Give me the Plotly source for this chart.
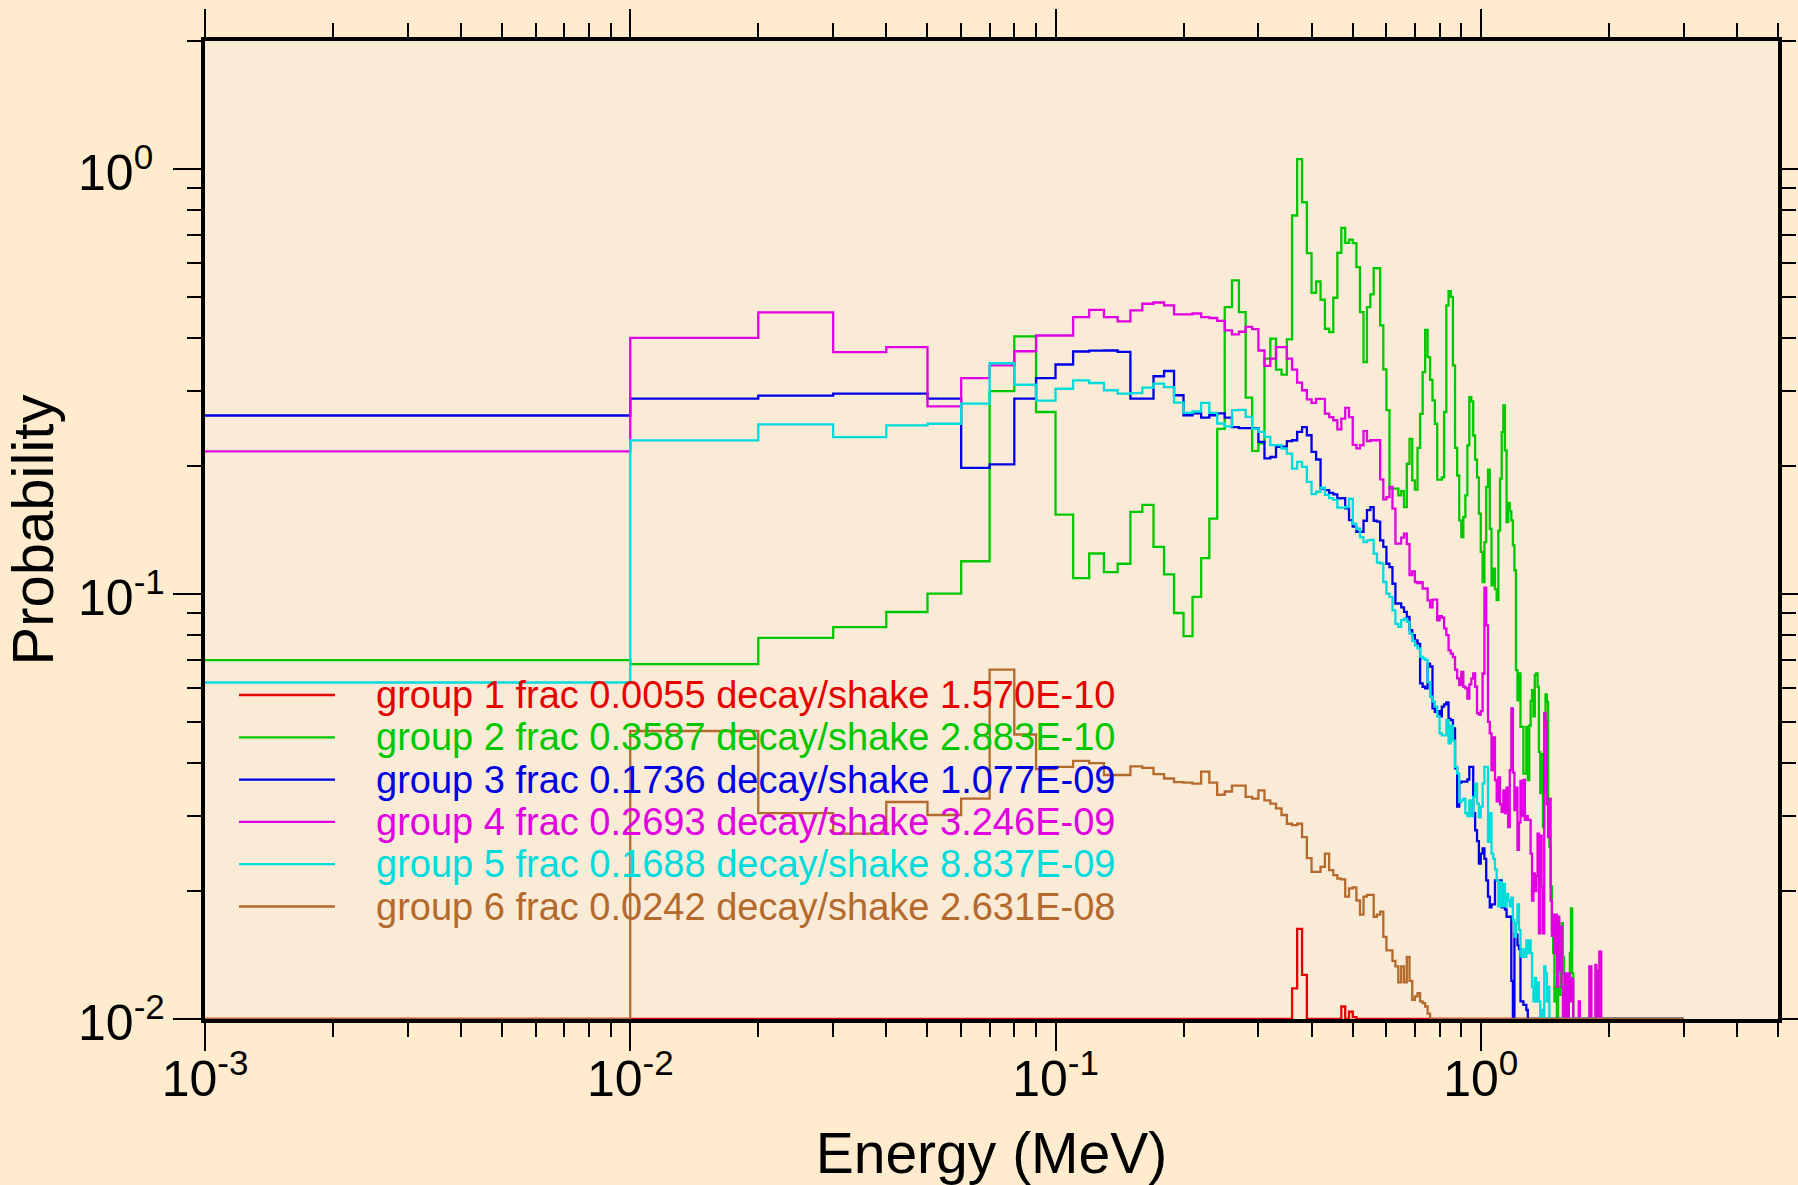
import math
import plotly.graph_objects as go

# ---------------- data ----------------
# histogram bin edges in MeV: first bin starts at the axis minimum, 0.01 MeV bins up to 2 MeV,
# then one last bin 2-3 MeV where every group sits on the axis floor
BIN_EDGES_MEV = [0.001] + [k / 100 for k in range(1, 201)] + [3.0]

GROUP_LABELS = [
    "group 1 frac 0.0055 decay/shake 1.570E-10",
    "group 2 frac 0.3587 decay/shake 2.883E-10",
    "group 3 frac 0.1736 decay/shake 1.077E-09",
    "group 4 frac 0.2693 decay/shake 3.246E-09",
    "group 5 frac 0.1688 decay/shake 8.837E-09",
    "group 6 frac 0.0242 decay/shake 2.631E-08",
]

GROUP1 = [
    0.01, 0.01, 0.01, 0.01, 0.01, 0.01, 0.01, 0.01, 0.01, 0.01,
    0.01, 0.01, 0.01, 0.01, 0.01, 0.01, 0.01, 0.01, 0.01, 0.01,
    0.01, 0.01, 0.01, 0.01, 0.01, 0.01, 0.01, 0.01, 0.01, 0.01,
    0.01, 0.01, 0.01, 0.01, 0.01, 0.01, 0.0118, 0.0163, 0.0127, 0.01,
    0.01, 0.01, 0.01, 0.01, 0.01, 0.01, 0.01, 0.0107, 0.01, 0.0104,
    0.0101, 0.01, 0.01, 0.01, 0.01, 0.01, 0.01, 0.01, 0.01, 0.01,
    0.01, 0.01, 0.01, 0.01, 0.01, 0.01, 0.01, 0.01, 0.01, 0.01,
    0.01, 0.01, 0.01, 0.01, 0.01, 0.01, 0.01, 0.01, 0.01, 0.01,
    0.01, 0.01, 0.01, 0.01, 0.01, 0.01, 0.01, 0.01, 0.01, 0.01,
    0.01, 0.01, 0.01, 0.01, 0.01, 0.01, 0.01, 0.01, 0.01, 0.01,
    0.01, 0.01, 0.01, 0.01, 0.01, 0.01, 0.01, 0.01, 0.01, 0.01,
    0.01, 0.01, 0.01, 0.01, 0.01, 0.01, 0.01, 0.01, 0.01, 0.01,
    0.01, 0.01, 0.01, 0.01, 0.01, 0.01, 0.01, 0.01, 0.01, 0.01,
    0.01, 0.01, 0.01, 0.01, 0.01, 0.01, 0.01, 0.01, 0.01, 0.01,
    0.01, 0.01, 0.01, 0.01, 0.01, 0.01, 0.01, 0.01, 0.01, 0.01,
    0.01, 0.01, 0.01, 0.01, 0.01, 0.01, 0.01, 0.01, 0.01, 0.01,
    0.01, 0.01, 0.01, 0.01, 0.01, 0.01, 0.01, 0.01, 0.01, 0.01,
    0.01, 0.01, 0.01, 0.01, 0.01, 0.01, 0.01, 0.01, 0.01, 0.01,
    0.01, 0.01, 0.01, 0.01, 0.01, 0.01, 0.01, 0.01, 0.01, 0.01,
    0.01, 0.01, 0.01, 0.01, 0.01, 0.01, 0.01, 0.01, 0.01, 0.01,
    0.01,
]

GROUP2 = [
    0.0699, 0.0684, 0.0788, 0.0836, 0.0907, 0.1002, 0.1194, 0.300, 0.4035, 0.268,
    0.1537, 0.109, 0.1245, 0.1126, 0.1178, 0.156, 0.162, 0.129, 0.1112, 0.0902,
    0.0796, 0.0984, 0.1215, 0.1504, 0.2447, 0.473, 0.5466, 0.4605, 0.2897, 0.2172,
    0.226, 0.3578, 0.3987, 0.337, 0.328, 0.397, 0.777, 1.055, 0.835, 0.634,
    0.5114, 0.5435, 0.4923, 0.4207, 0.4133, 0.4977, 0.635, 0.727, 0.670, 0.682,
    0.669, 0.5875, 0.4605, 0.3514, 0.473, 0.5068, 0.5843, 0.584, 0.4285, 0.3378,
    0.2706, 0.177, 0.177, 0.177, 0.1706, 0.1745, 0.160, 0.2025, 0.2318, 0.185,
    0.176, 0.2207, 0.2654, 0.3326, 0.418, 0.3607, 0.319, 0.2853, 0.2515, 0.1857,
    0.1857, 0.188, 0.268, 0.4773, 0.516, 0.500, 0.345, 0.2207, 0.190, 0.149,
    0.136, 0.1517, 0.1706, 0.2236, 0.2904, 0.284, 0.236, 0.207, 0.188, 0.1545,
    0.1256, 0.1067, 0.1325, 0.1785, 0.196, 0.1424, 0.1048, 0.1147, 0.1027, 0.0967,
    0.141, 0.1867, 0.2404, 0.2777, 0.2177, 0.1477, 0.1637, 0.1564, 0.149, 0.1302,
    0.1137, 0.0662, 0.0562, 0.065, 0.0487, 0.0487, 0.0378, 0.0378, 0.0487, 0.0365,
    0.049, 0.056, 0.0594, 0.0515, 0.0645, 0.065, 0.0605, 0.0425, 0.034, 0.042,
    0.0283, 0.034, 0.058, 0.0557, 0.0283, 0.0254, 0.0205, 0.0162, 0.0143, 0.011,
    0.0119, 0.01, 0.0119, 0.0114, 0.0128, 0.0168, 0.014, 0.01, 0.0119, 0.01,
    0.01, 0.011, 0.0143, 0.0182, 0.0128, 0.01, 0.01, 0.01, 0.01, 0.01,
    0.01, 0.01, 0.01, 0.01, 0.01, 0.01, 0.01, 0.01, 0.01, 0.01,
    0.01, 0.01, 0.01, 0.01, 0.01, 0.01, 0.01, 0.01, 0.01, 0.01,
    0.01, 0.01, 0.01, 0.01, 0.01, 0.01, 0.01, 0.01, 0.01, 0.01,
    0.01,
]

GROUP3 = [
    0.263, 0.288, 0.293, 0.296, 0.296, 0.288, 0.198, 0.2018, 0.288, 0.322,
    0.3467, 0.372, 0.3737, 0.374, 0.371, 0.288, 0.288, 0.3253, 0.3347, 0.2935,
    0.2633, 0.266, 0.260, 0.2633, 0.266, 0.260, 0.247, 0.2455, 0.2455, 0.2455,
    0.228, 0.2084, 0.210, 0.222, 0.222, 0.229, 0.230, 0.2406, 0.247, 0.2363,
    0.216, 0.2072, 0.177, 0.1755, 0.173, 0.1715, 0.1679, 0.168, 0.159, 0.1492,
    0.144, 0.140, 0.140, 0.1487, 0.1575, 0.160, 0.1487, 0.148, 0.1337, 0.129,
    0.1178, 0.1157, 0.1057, 0.0949, 0.095, 0.093, 0.0908, 0.0883, 0.0822, 0.080,
    0.0778, 0.0763, 0.0616, 0.0605, 0.060, 0.0686, 0.0675, 0.0538, 0.0528, 0.053,
    0.0515, 0.0543, 0.055, 0.0556, 0.0508, 0.0505, 0.0483, 0.0389, 0.0316, 0.036,
    0.0362, 0.0362, 0.0362, 0.0366, 0.0392, 0.0392, 0.0305, 0.0278, 0.0262, 0.0232,
    0.0245, 0.0252, 0.0238, 0.0212, 0.0194, 0.0183, 0.0186, 0.0186, 0.0212, 0.0212,
    0.0212, 0.0212, 0.0183, 0.0183, 0.0181, 0.0174, 0.0174, 0.0174, 0.0123, 0.01,
    0.0159, 0.0158, 0.0149, 0.0146, 0.011, 0.011, 0.0108, 0.0108, 0.0105, 0.01,
    0.01, 0.01, 0.01, 0.01, 0.01, 0.01, 0.01, 0.01, 0.01, 0.01,
    0.01, 0.01, 0.01, 0.01, 0.01, 0.01, 0.01, 0.01, 0.01, 0.01,
    0.01, 0.01, 0.01, 0.01, 0.01, 0.01, 0.01, 0.01, 0.01, 0.01,
    0.01, 0.01, 0.01, 0.01, 0.01, 0.01, 0.01, 0.01, 0.01, 0.01,
    0.01, 0.01, 0.01, 0.01, 0.01, 0.01, 0.01, 0.01, 0.01, 0.01,
    0.01, 0.01, 0.01, 0.01, 0.01, 0.01, 0.01, 0.01, 0.01, 0.01,
    0.01, 0.01, 0.01, 0.01, 0.01, 0.01, 0.01, 0.01, 0.01, 0.01,
    0.01,
]

GROUP4 = [
    0.2165, 0.4006, 0.460, 0.3706, 0.3807, 0.2763, 0.322, 0.345, 0.3725, 0.4056,
    0.4056, 0.448, 0.466, 0.448, 0.438, 0.465, 0.4818, 0.485, 0.4775, 0.4546,
    0.455, 0.457, 0.448, 0.446, 0.439, 0.417, 0.408, 0.414, 0.425, 0.420,
    0.374, 0.344, 0.358, 0.381, 0.381, 0.358, 0.337, 0.3143, 0.3015, 0.287,
    0.2815, 0.2877, 0.2877, 0.2657, 0.2606, 0.2563, 0.244, 0.2585, 0.274, 0.2606,
    0.2244, 0.220, 0.2238, 0.2415, 0.229, 0.230, 0.230, 0.230, 0.186, 0.167,
    0.169, 0.1785, 0.1588, 0.1314, 0.1314, 0.1357, 0.1386, 0.131, 0.1107, 0.113,
    0.1067, 0.106, 0.1066, 0.103, 0.103, 0.0966, 0.093, 0.097, 0.097, 0.0867,
    0.0887, 0.088, 0.083, 0.080, 0.0737, 0.0724, 0.071, 0.0664, 0.0633, 0.061,
    0.0656, 0.0605, 0.060, 0.0567, 0.0613, 0.0632, 0.065, 0.0605, 0.0524, 0.052,
    0.053, 0.065, 0.1035, 0.0844, 0.050, 0.047, 0.0385, 0.046, 0.0365, 0.0325,
    0.037, 0.032, 0.0307, 0.0345, 0.0305, 0.035, 0.0283, 0.0385, 0.0538, 0.038,
    0.031, 0.035, 0.025, 0.029, 0.0363, 0.030, 0.0365, 0.0294, 0.030, 0.0294,
    0.0294, 0.0245, 0.019, 0.022, 0.020, 0.0217, 0.0273, 0.0159, 0.027, 0.0205,
    0.0159, 0.0525, 0.050, 0.032, 0.0268, 0.033, 0.019, 0.0157, 0.0176, 0.0143,
    0.0176, 0.0119, 0.0174, 0.013, 0.0165, 0.0119, 0.01, 0.01, 0.0128, 0.0122,
    0.01, 0.0128, 0.0125, 0.011, 0.0124, 0.01, 0.01, 0.01, 0.01, 0.01,
    0.011, 0.01, 0.01, 0.01, 0.01, 0.01, 0.01, 0.01, 0.01, 0.01,
    0.0133, 0.0133, 0.01, 0.01, 0.01, 0.01, 0.0134, 0.013, 0.01, 0.01,
    0.0144, 0.0144, 0.01, 0.01, 0.01, 0.01, 0.01, 0.01, 0.01, 0.01,
    0.01,
]

GROUP5 = [
    0.0619, 0.2298, 0.2505, 0.2339, 0.2492, 0.2515, 0.2803, 0.349, 0.3106, 0.285,
    0.304, 0.318, 0.3136, 0.3015, 0.296, 0.297, 0.306, 0.3126, 0.3066, 0.282,
    0.2667, 0.2687, 0.2817, 0.2667, 0.2518, 0.248, 0.2706, 0.271, 0.261, 0.245,
    0.2406, 0.2343, 0.2239, 0.2239, 0.2199, 0.214, 0.1973, 0.2046, 0.199, 0.1836,
    0.1718, 0.174, 0.1778, 0.171, 0.168, 0.1665, 0.1596, 0.1596, 0.160, 0.1675,
    0.1463, 0.1424, 0.136, 0.1325, 0.1337, 0.134, 0.1244, 0.1186, 0.118, 0.1067,
    0.1002, 0.0984, 0.0915, 0.085, 0.0837, 0.0868, 0.0875, 0.086, 0.0807, 0.0776,
    0.0757, 0.0745, 0.0711, 0.0705, 0.070, 0.062, 0.0573, 0.0558, 0.0543, 0.0515,
    0.047, 0.0465, 0.0465, 0.0505, 0.0445, 0.049, 0.0452, 0.0392, 0.0378, 0.0324,
    0.0327, 0.033, 0.0305, 0.030, 0.0327, 0.030, 0.0333, 0.0358, 0.0321, 0.0298,
    0.0316, 0.0358, 0.0392, 0.0392, 0.0261, 0.0305, 0.0245, 0.0238, 0.0225, 0.0212,
    0.0184, 0.021, 0.0184, 0.0208, 0.0184, 0.0197, 0.019, 0.0184, 0.0193, 0.0171,
    0.0156, 0.0168, 0.0186, 0.0162, 0.0141, 0.014, 0.0146, 0.014, 0.0153, 0.0143,
    0.0153, 0.0143, 0.0119, 0.011, 0.0125, 0.011, 0.0122, 0.011, 0.01, 0.0105,
    0.01, 0.0133, 0.0128, 0.011, 0.0119, 0.01, 0.01, 0.01, 0.01, 0.01,
    0.01, 0.01, 0.01, 0.01, 0.01, 0.01, 0.01, 0.01, 0.01, 0.01,
    0.01, 0.01, 0.01, 0.01, 0.01, 0.01, 0.01, 0.01, 0.01, 0.01,
    0.01, 0.01, 0.01, 0.01, 0.01, 0.01, 0.01, 0.01, 0.01, 0.01,
    0.01, 0.01, 0.01, 0.01, 0.01, 0.01, 0.01, 0.01, 0.01, 0.01,
    0.01, 0.01, 0.01, 0.01, 0.01, 0.01, 0.01, 0.01, 0.01, 0.01,
    0.01,
]

GROUP6 = [
    0.01, 0.0476, 0.0305, 0.0273, 0.0324, 0.0302, 0.033, 0.0664, 0.0467, 0.0387,
    0.0392, 0.0405, 0.040, 0.0375, 0.0375, 0.0393, 0.039, 0.0377, 0.0368, 0.0361,
    0.036, 0.0358, 0.0382, 0.036, 0.0337, 0.0343, 0.0354, 0.0354, 0.0333, 0.033,
    0.0345, 0.0327, 0.0321, 0.0313, 0.0302, 0.0288, 0.0286, 0.0288, 0.0268, 0.0239,
    0.0222, 0.0222, 0.0228, 0.0245, 0.0224, 0.0218, 0.0214, 0.0213, 0.0194, 0.0203,
    0.0204, 0.019, 0.0176, 0.0194, 0.0196, 0.0196, 0.0174, 0.0176, 0.0179, 0.0156,
    0.0145, 0.0145, 0.0137, 0.0133, 0.0122, 0.0133, 0.0122, 0.014, 0.0123, 0.0111,
    0.0113, 0.0115, 0.011, 0.0109, 0.0107, 0.0103, 0.01, 0.01, 0.01, 0.01,
    0.01, 0.01, 0.01, 0.01, 0.01, 0.01, 0.01, 0.01, 0.01, 0.01,
    0.01, 0.01, 0.01, 0.01, 0.01, 0.01, 0.01, 0.01, 0.01, 0.01,
    0.01, 0.01, 0.01, 0.01, 0.01, 0.01, 0.01, 0.01, 0.01, 0.01,
    0.01, 0.01, 0.01, 0.01, 0.01, 0.01, 0.01, 0.01, 0.01, 0.01,
    0.01, 0.01, 0.01, 0.01, 0.01, 0.01, 0.01, 0.01, 0.01, 0.01,
    0.01, 0.01, 0.01, 0.01, 0.01, 0.01, 0.01, 0.01, 0.01, 0.01,
    0.01, 0.01, 0.01, 0.01, 0.01, 0.01, 0.01, 0.01, 0.01, 0.01,
    0.01, 0.01, 0.01, 0.01, 0.01, 0.01, 0.01, 0.01, 0.01, 0.01,
    0.01, 0.01, 0.01, 0.01, 0.01, 0.01, 0.01, 0.01, 0.01, 0.01,
    0.01, 0.01, 0.01, 0.01, 0.01, 0.01, 0.01, 0.01, 0.01, 0.01,
    0.01, 0.01, 0.01, 0.01, 0.01, 0.01, 0.01, 0.01, 0.01, 0.01,
    0.01, 0.01, 0.01, 0.01, 0.01, 0.01, 0.01, 0.01, 0.01, 0.01,
    0.01,
]

SERIES = [GROUP1, GROUP2, GROUP3, GROUP4, GROUP5, GROUP6]

X_MAJOR_TICKS = [0.001, 0.01, 0.1, 1]
X_MAJOR_TEXT = ["10<sup>-3</sup>", "10<sup>-2</sup>", "10<sup>-1</sup>", "10<sup>0</sup>"]
X_MINOR_TICKS = [0.002, 0.003, 0.004, 0.005, 0.006, 0.007, 0.008, 0.009,
                 0.02, 0.03, 0.04, 0.05, 0.06, 0.07, 0.08, 0.09,
                 0.2, 0.3, 0.4, 0.5, 0.6, 0.7, 0.8, 0.9,
                 2, 3, 4, 5]
Y_MAJOR_TICKS = [0.01, 0.1, 1]
Y_MAJOR_TEXT = ["10<sup>-2</sup>", "10<sup>-1</sup>", "10<sup>0</sup>"]
Y_MINOR_TICKS = [0.02, 0.03, 0.04, 0.05, 0.06, 0.07, 0.08, 0.09,
                 0.2, 0.3, 0.4, 0.5, 0.6, 0.7, 0.8, 0.9, 2]
X_LIMITS = [0.001, 5]
Y_LIMITS = [0.01, 2]

# ---------------- styling ----------------
COLORS = ["#E60000", "#00C800", "#0000E6", "#E100E1", "#00DCDC", "#B4692D"]
FONT = "Liberation Sans, Arial, Helvetica, sans-serif"
W, H = 1798, 1185
ML, MR, MT, MB = 205, 20, 41, 166
PW, PH = W - ML - MR, H - MT - MB
TICK_FONT_SIZE = 50


def paper_x(px):
    return (px - ML) / PW


def paper_y(py):
    return (H - MB - py) / PH


fig = go.Figure()
for label, color, vals in zip(GROUP_LABELS, COLORS, SERIES):
    assert len(vals) == len(BIN_EDGES_MEV) - 1, (label, len(vals))
    fig.add_trace(go.Scatter(
        x=BIN_EDGES_MEV,
        y=list(vals) + [vals[-1]],
        mode="lines",
        line=dict(color=color, width=2.3, shape="hv"),
        name=label,
        showlegend=False,
        hoverinfo="skip",
    ))

# legend drawn inside the plot, as in the reference
LEG_LINE_X0, LEG_LINE_X1, LEG_TEXT_X = 239, 335, 374
LEG_Y0, LEG_DY = 695, 42.3
shapes, annotations = [], []
for i, (label, color) in enumerate(zip(GROUP_LABELS, COLORS)):
    yy = paper_y(LEG_Y0 + i * LEG_DY)
    shapes.append(dict(type="line", xref="paper", yref="paper",
                       x0=paper_x(LEG_LINE_X0), x1=paper_x(LEG_LINE_X1), y0=yy, y1=yy,
                       line=dict(color=color, width=2.3)))
    annotations.append(dict(text=label, xref="paper", yref="paper",
                            x=paper_x(LEG_TEXT_X), y=yy, xanchor="left", yanchor="middle",
                            showarrow=False, font=dict(family=FONT, size=38, color=color)))

# y tick labels are left-aligned in the reference, so they are placed as annotations
Y_LABEL_LEFT_PX = 76
for val, txt in zip(Y_MAJOR_TICKS, Y_MAJOR_TEXT):
    annotations.append(dict(text=txt, xref="paper", yref="y",
                            x=paper_x(Y_LABEL_LEFT_PX), y=math.log10(val),
                            xanchor="left", yanchor="middle", showarrow=False,
                            font=dict(family=FONT, size=TICK_FONT_SIZE, color="black")))

axis_common = dict(
    type="log",
    automargin=False,
    showgrid=False, zeroline=False,
    showline=True, linecolor="black", linewidth=4,
    ticks="outside", ticklen=28, tickwidth=2, tickcolor="black",
    mirror="allticks",
    tickfont=dict(family=FONT, size=TICK_FONT_SIZE, color="black"),
)

fig.update_xaxes(
    **axis_common,
    range=[math.log10(X_LIMITS[0]), math.log10(X_LIMITS[1])],
    tickmode="array", tickvals=X_MAJOR_TICKS, ticktext=X_MAJOR_TEXT,
    minor=dict(tickmode="array", tickvals=X_MINOR_TICKS, ticks="outside",
               ticklen=14, tickwidth=2, tickcolor="black", showgrid=False),
    ticklabelstandoff=-15,
    title=dict(text="Energy (MeV)", font=dict(family=FONT, size=57, color="black"), standoff=29),
)
fig.update_yaxes(
    **axis_common,
    range=[math.log10(Y_LIMITS[0]), math.log10(Y_LIMITS[1])],
    tickmode="array", tickvals=Y_MAJOR_TICKS,
    showticklabels=False,
    minor=dict(tickmode="array", tickvals=Y_MINOR_TICKS, ticks="outside",
               ticklen=14, tickwidth=2, tickcolor="black", showgrid=False),
    title=dict(text="Probability", font=dict(family=FONT, size=58, color="black"), standoff=118),
)

fig.update_layout(
    width=W, height=H,
    margin=dict(l=ML, r=MR, t=MT, b=MB, autoexpand=False),
    paper_bgcolor="#FFEBCD",
    plot_bgcolor="#FAEBD7",
    font=dict(family=FONT, color="black"),
    showlegend=False,
    shapes=shapes,
    annotations=annotations,
)

fig.write_html(
    "out.html",
    config={"displayModeBar": False},
    post_script="document.body.style.margin='0';document.body.style.overflow='hidden';",
)
